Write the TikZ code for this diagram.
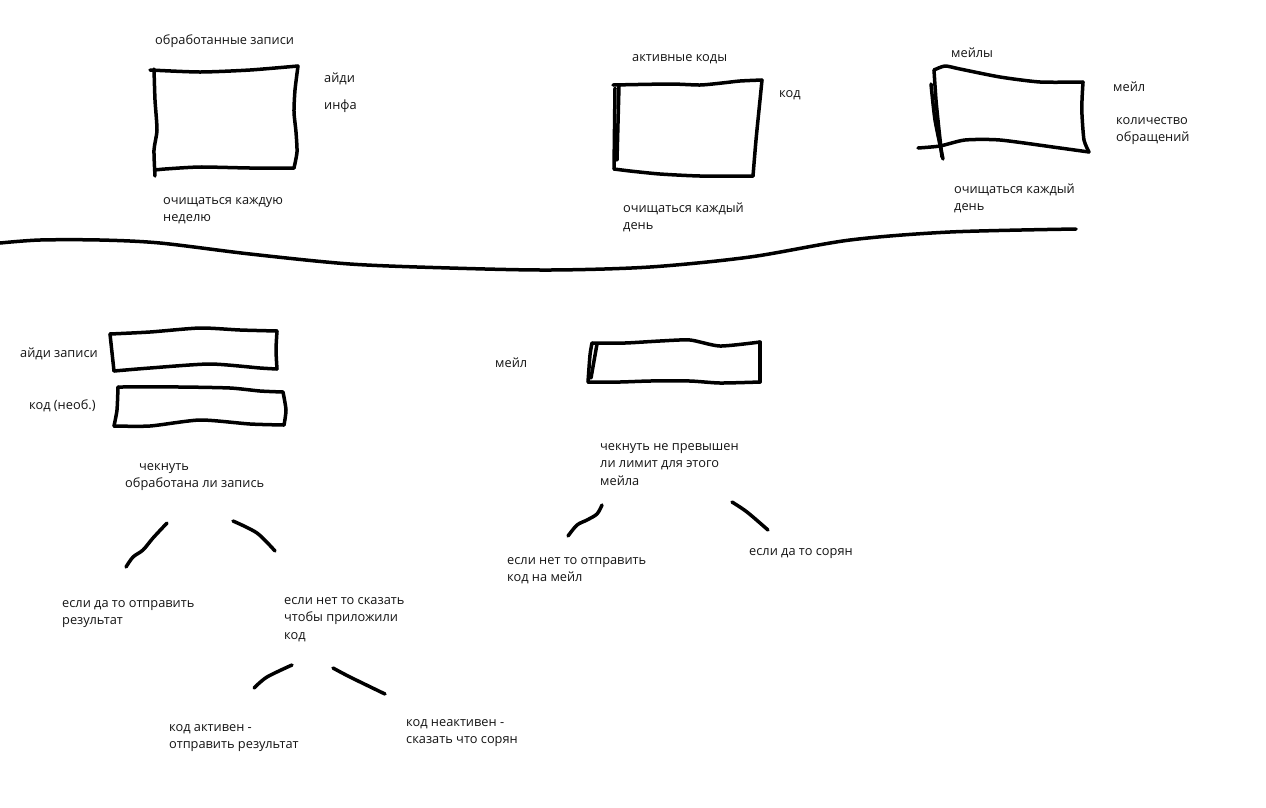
\documentclass[tikz,border=0pt]{standalone}
\usepackage{fontspec}
\setmainfont{Open Sans}
\begin{document}
\begin{tikzpicture}[x=1pt,y=-1pt,
  pen/.style={line width=3.5pt, line cap=round, line join=round, black},
  lbl/.style={anchor=base west, inner sep=0pt, align=left, text=black!92,
    font=\fontsize{12.8}{17.7}\selectfont},
]
\fill[white] (0,0) rectangle (1266,807);
\useasboundingbox (0,0) rectangle (1266,807);

% ---------- top: tables ----------
% box 1
\draw[pen] plot[smooth, tension=0.4] coordinates {(150,70) (200,72) (250,70) (298,66)};
\draw[pen] plot[smooth, tension=0.4] coordinates {(298,66) (295,90) (294,112) (296,132) (297,152) (294,168)};
\draw[pen] plot[smooth, tension=0.4] coordinates {(294,168) (250,168) (200,167) (165,169) (155,170)};
\draw[pen] plot[smooth, tension=0.4] coordinates {(154,69) (155,100) (157,130) (154,150) (155,176)};
% box 2
\draw[pen] plot[smooth, tension=0.4] coordinates {(613,85) (670,84) (700,85) (722,83) (740,81) (762,80)};
\draw[pen] plot[smooth, tension=0.4] coordinates {(762,80) (760,100) (756,140) (753,176)};
\draw[pen] plot[smooth, tension=0.4] coordinates {(753,176) (700,176) (660,174) (630,171) (614,169)};
\draw[pen] (614,169) -- (615,88);
\draw[pen] (619,86) -- (617,160);
% box 3
\draw[pen] plot[smooth, tension=0.4] coordinates {(934,70) (945,66) (960,69) (1000,77) (1040,82) (1083,82)};
\draw[pen] plot[smooth, tension=0.4] coordinates {(1083,82) (1082,100) (1082,115) (1084,140) (1089,152)};
\draw[pen] plot[smooth, tension=0.4] coordinates {(1089,152) (1060,148) (1000,140) (965,140) (940,146) (918,148)};
\draw[pen] plot[smooth, tension=0.4] coordinates {(934,70) (936,100) (939,130) (942,157)};
\draw[pen] plot[smooth, tension=0.4] coordinates {(931,84) (935,120) (943,159)};

\node[lbl] (t1) at (155,44) {обработанные записи};
\node[lbl] (t1a) at (324,82) {айди};
\node[lbl] (t1b) at (324,109) {инфа};
\node[lbl] (t1c) at (163,221.7) {очищаться каждую\\неделю};

\node[lbl] (t2) at (632,61) {активные коды};
\node[lbl] (t2a) at (779,97) {код};
\node[lbl] (t2c) at (623,229.7) {очищаться каждый\\день};

\node[lbl] (t3) at (951,57) {мейлы};
\node[lbl] (t3a) at (1113,91) {мейл};
\node[lbl] (t3b) at (1116,141.7) {количество\\обращений};
\node[lbl] (t3c) at (954,210.7) {очищаться каждый\\день};

% ---------- separator ----------
\draw[pen] plot[smooth, tension=0.5] coordinates {(0,243) (40,240) (100,240) (160,243) (250,254) (350,264) (450,268) (550,270) (650,267) (750,257) (850,240) (950,232) (1076,229)};

% ---------- lower left ----------
\draw[pen] plot[smooth, tension=0.4] coordinates {(110,334) (150,332) (200,328) (240,330) (277,331)};
\draw[pen] plot[smooth, tension=0.4] coordinates {(277,331) (276,350) (277,369)};
\draw[pen] plot[smooth, tension=0.4] coordinates {(277,369) (260,368) (210,364) (150,368) (114,371)};
\draw[pen] (114,371) -- (110,334);

\draw[pen] plot[smooth, tension=0.4] coordinates {(118,387) (180,387) (230,388) (260,391) (283,392)};
\draw[pen] plot[smooth, tension=0.4] coordinates {(283,392) (286,410) (284,425)};
\draw[pen] plot[smooth, tension=0.4] coordinates {(284,425) (250,424) (200,420) (150,426) (114,426)};
\draw[pen] plot[smooth, tension=0.4] coordinates {(114,426) (117,410) (118,387)};

\node[lbl] (l1) at (20,357) {айди записи};
\node[lbl] (l2) at (29,409) {код (необ.)};
\node[lbl] (q1) at (125,487.7) {\hspace*{14pt}чекнуть\\обработана ли запись};

\draw[pen] plot[smooth, tension=0.5] coordinates {(167,523) (153,538) (143,550) (133,557) (126,567)};
\draw[pen] plot[smooth, tension=0.5] coordinates {(233,521) (257,533) (275,551)};

\node[lbl] (a1) at (62,624.7) {если да то отправить\\результат};
\node[lbl] (a2) at (284,639.4) {если нет то сказать\\чтобы приложили\\код};

\draw[pen] plot[smooth, tension=0.5] coordinates {(254,688) (267,677) (292,665)};
\draw[pen] plot[smooth, tension=0.5] coordinates {(333,668) (350,677) (385,694)};

\node[lbl] (b1) at (169,748.7) {код активен -\\отправить результат};
\node[lbl] (b2) at (406,743.7) {код неактивен -\\сказать что сорян};

% ---------- lower right ----------
\draw[pen] plot[smooth, tension=0.4] coordinates {(592,343) (625,343) (660,341) (690,340) (720,346) (760,342)};
\draw[pen] (760,342) -- (760,382);
\draw[pen] plot[smooth, tension=0.4] coordinates {(760,382) (720,383) (690,381) (650,381) (620,382) (588,382)};
\draw[pen] plot[smooth, tension=0.4] coordinates {(588,382) (590,355) (592,343)};
\draw[pen] (597,344) -- (591,378);

\node[lbl] (m1) at (495,367) {мейл};
\node[lbl] (q2) at (600,485.4) {чекнуть не превышен\\ли лимит для этого\\мейла};

\draw[pen] plot[smooth, tension=0.5] coordinates {(602,505) (597,514) (587,520) (577,525) (568,536)};
\draw[pen] plot[smooth, tension=0.5] coordinates {(732,502) (747,512) (768,530)};

\node[lbl] (c1) at (507,581.7) {если нет то отправить\\код на мейл};
\node[lbl] (c2) at (749,555) {если да то сорян};
\end{tikzpicture}
\end{document}
